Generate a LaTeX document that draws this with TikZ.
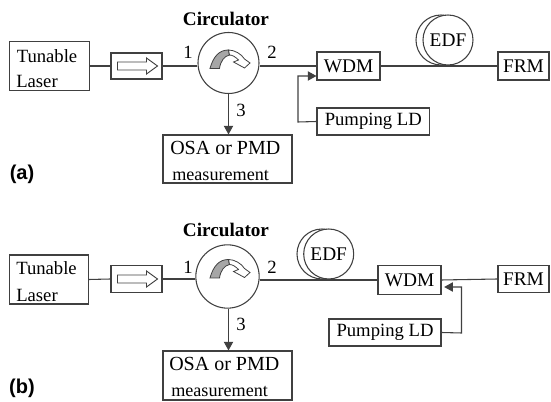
\documentclass[tikz,border=0pt]{standalone}
\usepackage{fontspec}
\setmainfont{Liberation Serif}
\setsansfont{Liberation Sans}
\usetikzlibrary{positioning, arrows.meta, calc}
\tikzset{
	unitbox/.style={draw=black!75, line width=0.8pt, inner sep=0pt, font=\fontsize{14.5}{16}\selectfont},
	linetext/.style={anchor=base west, inner sep=0pt, font=\fontsize{14}{16}\selectfont},
	ring/.style={draw=black!75, line width=0.8pt, circle, inner sep=0pt},
	fibre/.style={draw=black!75, line width=0.8pt},
	pumpline/.style={fibre, -{Triangle[length=6.5pt,width=7pt]}},
	portlabel/.style={font=\fontsize{14}{16}\selectfont},
	titletext/.style={font=\bfseries\fontsize{14.4}{16}\selectfont},
	tagtext/.style={font=\sffamily\bfseries\fontsize{15}{16}\selectfont},
}
\newcommand{\rotsign}[1]{
	\begin{scope}[shift={#1}]
		\draw[black!75, fill=black!35, line width=0.6pt] (-18.5,5.5) -- (-9,5.5) .. controls (-8,-2) and (-4,-7) .. (1,-8) -- (0,-13) .. controls (-9,-13) and (-15,-7) .. (-18.5,5.5) -- cycle;
		\draw[black!75, fill=white, line width=0.6pt] (0,-13) .. controls (6,-13) and (13,-9) .. (16,-4) -- (21.5,0) -- (16,5) -- (5,-1) -- (10,-3) .. controls (7,-6) and (4,-8) .. (1,-8) -- cycle;
	\end{scope}
}
\newcommand{\isosign}[1]{
	\begin{scope}[shift={#1}]
		\draw[black!75, line width=0.7pt] (-19,-4) -- (10,-4) -- (10,-8) -- (21,0) -- (10,8) -- (10,4) -- (-19,4) -- cycle;
	\end{scope}
}
\begin{document}
\begin{tikzpicture}[x=0.75pt, y=-0.75pt]
	\useasboundingbox (0,0) rectangle (551,402);

	% part (a)
	\node[unitbox, minimum width=60pt, minimum height=36.4pt] (lasera) at (49.5,66) {};
	\node[linetext] (tunea) at (16.5,63) {Tunable};
	\node[linetext] (lasea) at (16,88) {Laser};
	\node[unitbox, minimum width=38.25pt, minimum height=19.5pt] (isoa) at (136.5,66) {};
	\isosign{(isoa.center)}
	\node[ring, minimum size=45.75pt] (cira) at (228.5,63) {};
	\rotsign{(cira.center)}
	\node[titletext] (titlea) at (226,19) {Circulator};
	\node[unitbox, minimum width=47.25pt, minimum height=21pt] (wdma) at (348.5,66) {WDM};
	\node[unitbox, minimum width=38.25pt, minimum height=21pt] (frma) at (523.5,66) {FRM};
	\node[unitbox, font=\fontsize{14}{16}\selectfont, minimum width=84.4pt, minimum height=20.25pt] (pumpa) at (373.25,121.5) {Pumping LD};
	\node[unitbox, minimum width=96.75pt, minimum height=36pt] (osaa) at (227.5,159) {};
	\node[linetext, font=\fontsize{15}{16}\selectfont] (osatopa) at (170,155) {OSA or PMD};
	\node[linetext, font=\fontsize{13.6}{16}\selectfont] (osalowa) at (172,181) {measurement};
	\node[ring, minimum size=37.5pt] (edfbacka) at (441,40) {};
	\node[ring, fill=white, minimum size=37.5pt, font=\fontsize{14.5}{16}\selectfont] (edfa) at (448,40) {EDF};
	\coordinate (pumpkneea) at (298,122);
	\coordinate (pumpcorna) at (298,76);
	\draw[fibre] (lasera.east) -- (isoa.west);
	\draw[fibre] (isoa.east) -- (isoa.east -| cira.west);
	\draw[fibre] (wdma.west) -- (wdma.west -| cira.east);
	\draw[fibre] (wdma.east) -- (frma.west);
	\draw[pumpline] (cira.south) -- (osaa.north -| cira.south);
	\draw[pumpline] (pumpa.west) -- (pumpkneea) -- (pumpcorna) -- (wdma.west |- pumpcorna);
	\node[portlabel] (onea) at (188,52) {1};
	\node[portlabel] (twoa) at (272,52) {2};
	\node[portlabel] (threea) at (241,110) {3};
	\node[tagtext] (taga) at (22,174) {(a)};

	% part (b)
	\node[unitbox, minimum width=59.25pt, minimum height=36.75pt] (laserb) at (49,279.5) {};
	\node[linetext] (tuneb) at (16,275) {Tunable};
	\node[linetext] (laseb) at (16,301.7) {Laser};
	\node[unitbox, minimum width=38.25pt, minimum height=20pt] (isob) at (136.5,279) {};
	\isosign{(isob.center)}
	\node[ring, minimum size=47.5pt] (cirb) at (227.5,276.5) {};
	\rotsign{(228.5,272.5)}
	\node[titletext] (titleb) at (226,230) {Circulator};
	\node[unitbox, minimum width=47.25pt, minimum height=22pt] (wdmb) at (409.5,280) {WDM};
	\node[unitbox, minimum width=38.25pt, minimum height=20pt] (frmb) at (523.5,279) {FRM};
	\node[unitbox, font=\fontsize{14}{16}\selectfont, minimum width=84pt, minimum height=20.25pt] (pumpb) at (385,332.5) {Pumping LD};
	\node[unitbox, minimum width=96.75pt, minimum height=36.75pt] (osab) at (227.5,375.5) {};
	\node[linetext, font=\fontsize{15}{16}\selectfont] (osatopb) at (169,370.7) {OSA or PMD};
	\node[linetext, font=\fontsize{13.6}{16}\selectfont] (osalowb) at (171,396.7) {measurement};
	\node[ring, minimum size=37.5pt] (edfbackb) at (322,254) {};
	\node[ring, fill=white, minimum size=37.5pt, font=\fontsize{14.5}{16}\selectfont] (edfb) at (328.7,254) {EDF};
	\coordinate (pumpkneeb) at (461.5,333);
	\coordinate (pumpcornb) at (461.5,287);
	\draw[fibre] (laserb.east) -- (isob.west);
	\draw[fibre] (isob.east) -- (isob.east -| cirb.west);
	\draw[fibre] (wdmb.west) -- (wdmb.west -| cirb.east);
	\draw[fibre] (wdmb.east) -- (frmb.west);
	\draw[pumpline] (cirb.south -| cira.south) -- (osab.north -| cira.south);
	\draw[pumpline, shorten >=2pt] (pumpb.east) -- (pumpkneeb) -- (pumpcornb) -- (wdmb.east |- pumpcornb);
	\node[portlabel] (oneb) at (188,267) {1};
	\node[portlabel] (twob) at (272,267) {2};
	\node[portlabel] (threeb) at (241,324) {3};
	\node[tagtext] (tagb) at (22,388) {(b)};
\end{tikzpicture}
\end{document}
